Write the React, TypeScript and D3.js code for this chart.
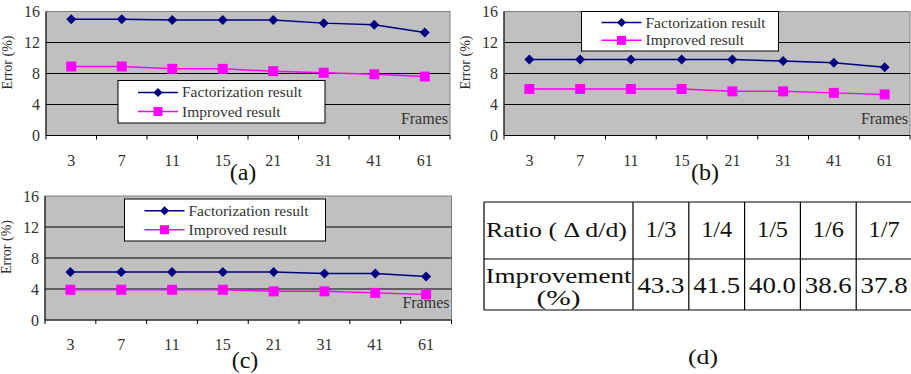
import React from 'react';
import * as d3 from 'd3';

const frames = ['3', '7', '11', '15', '21', '31', '41', '61'];
const yTicks = [0, 4, 8, 12, 16];

const factA = [15.0, 15.0, 14.9, 14.9, 14.9, 14.5, 14.3, 13.3];
const impA = [8.9, 8.9, 8.6, 8.6, 8.3, 8.1, 7.9, 7.6];
const factB = [9.8, 9.8, 9.8, 9.8, 9.8, 9.6, 9.4, 8.8];
const impB = [6.0, 6.0, 6.0, 6.0, 5.7, 5.7, 5.5, 5.3];
const factC = [6.2, 6.2, 6.2, 6.2, 6.2, 6.0, 6.0, 5.6];
const impC = [3.9, 3.9, 3.9, 3.9, 3.7, 3.7, 3.5, 3.3];

const ratios = ['1/3', '1/4', '1/5', '1/6', '1/7'];
const improvements = ['43.3', '41.5', '40.0', '38.6', '37.8'];

const FONT = 'Liberation Serif';
const NAVY = '#000080';
const MAGENTA = '#FF00FF';
const TXT = '#333';

type PanelProps = {
  left: number;
  right: number;
  top: number;
  bottom: number;
  fact: number[];
  imp: number[];
  label: string;
  labelX: number;
  labelY: number;
  legend: { x: number; y: number; w: number; h: number };
};

const Diamond = ({ x, y, r = 5 }: { x: number; y: number; r?: number }) => (
  <path d={`M${x},${y - r}L${x + r},${y}L${x},${y + r}L${x - r},${y}Z`} fill={NAVY} />
);

const Square = ({ x, y, s = 10 }: { x: number; y: number; s?: number }) => (
  <rect x={x - s / 2} y={y - s / 2} width={s} height={s} fill={MAGENTA} />
);

const Panel = ({ left, right, top, bottom, fact, imp, label, labelX, labelY, legend }: PanelProps) => {
  const x = d3.scaleBand().domain(frames).range([left, right]);
  const y = d3.scaleLinear().domain([0, 16]).range([bottom, top]);
  const cx = (f: string) => (x(f) as number) + x.bandwidth() / 2;
  const line = d3
    .line<number>()
    .x((_, i) => cx(frames[i]))
    .y((d) => y(d));

  const bounds = frames.map((f) => x(f) as number).concat([right]);
  const row1 = legend.y + legend.h * 0.28;
  const row2 = legend.y + legend.h * 0.73;
  const lx0 = legend.x + 20;
  const lx1 = legend.x + 60;

  return (
    <g fontFamily={FONT}>
      <rect x={left} y={top} width={right - left} height={bottom - top} fill="#C0C0C0" stroke="#808080" />
      {yTicks.slice(1, -1).map((t) => (
        <line key={t} x1={left} x2={right} y1={y(t)} y2={y(t)} stroke="#000" />
      ))}
      <line x1={left} x2={left} y1={top} y2={bottom} stroke="#000" />
      <line x1={left} x2={right} y1={bottom} y2={bottom} stroke="#000" />
      {bounds.map((b, i) => (
        <line key={i} x1={b} x2={b} y1={bottom} y2={bottom + 4} stroke="#000" />
      ))}
      {yTicks.map((t) => (
        <text key={t} x={left - 6} y={y(t) + 5.5} textAnchor="end" fontSize={16} fill={TXT}>
          {t}
        </text>
      ))}
      {frames.map((f) => (
        <text key={f} x={cx(f)} y={bottom + 30} textAnchor="middle" fontSize={16} fill={TXT}>
          {f}
        </text>
      ))}
      <text
        transform={`translate(${left - 34},${(top + bottom) / 2 - 11}) rotate(-90)`}
        textAnchor="middle"
        fontSize={14}
        fill={TXT}
      >
        Error (%)
      </text>
      <text x={right - 2} y={bottom - 12} textAnchor="end" fontSize={16} fill={TXT}>
        Frames
      </text>

      <path d={line(fact) as string} fill="none" stroke={NAVY} strokeWidth={1.5} />
      <path d={line(imp) as string} fill="none" stroke={MAGENTA} strokeWidth={1.5} />
      {fact.map((d, i) => (
        <Diamond key={i} x={cx(frames[i])} y={y(d)} />
      ))}
      {imp.map((d, i) => (
        <Square key={i} x={cx(frames[i])} y={y(d)} />
      ))}

      <rect x={legend.x} y={legend.y} width={legend.w} height={legend.h} fill="#fff" stroke="#000" />
      <line x1={lx0} x2={lx1} y1={row1} y2={row1} stroke={NAVY} strokeWidth={1.5} />
      <Diamond x={(lx0 + lx1) / 2} y={row1} r={4.5} />
      <line x1={lx0} x2={lx1} y1={row2} y2={row2} stroke={MAGENTA} strokeWidth={1.5} />
      <Square x={(lx0 + lx1) / 2} y={row2} s={9} />
      <text x={lx1 + 4} y={row1 + 5} fontSize={15.5} fill={TXT}>
        Factorization result
      </text>
      <text x={lx1 + 4} y={row2 + 5} fontSize={15.5} fill={TXT}>
        Improved result
      </text>

      <text x={labelX} y={labelY} textAnchor="middle" fontSize={24} fill="#111">
        {label}
      </text>
    </g>
  );
};

const Table = () => {
  const left = 484;
  const split = 633;
  const right = 912;
  const rows = [202, 259, 310];
  const col = d3.scaleBand().domain(ratios).range([split, right]);
  const edges = ratios.map((r) => col(r) as number).concat([right]);
  const cc = (r: string) => (col(r) as number) + col.bandwidth() / 2;
  const fit = { lengthAdjust: 'spacingAndGlyphs' as const };
  return (
    <g fill="#111" fontSize={22} fontFamily={FONT}>
      {rows.map((r) => (
        <line key={r} x1={left} x2={right} y1={r} y2={r} stroke="#000" strokeWidth={1.2} />
      ))}
      {[left, ...edges].map((e, i) => (
        <line key={i} x1={e} x2={e} y1={rows[0]} y2={rows[2]} stroke="#000" strokeWidth={1.2} />
      ))}
      <text x={486} y={237} textLength={141} {...fit}>
        Ratio ( Δ d/d)
      </text>
      <text x={485.5} y={283} textLength={146} {...fit}>
        Improvement
      </text>
      <text x={(left + split) / 2 - 22} y={305} textLength={44} fontSize={20} {...fit}>
        (%)
      </text>
      {ratios.map((r, i) => (
        <g key={r}>
          <text x={cc(r) - 15.5} y={237} textLength={31} fontSize={23} {...fit}>
            {r}
          </text>
          <text x={cc(r) - 23.5} y={293} textLength={47} fontSize={24} {...fit}>
            {improvements[i]}
          </text>
        </g>
      ))}
      <text x={688} y={364} textLength={30} {...fit}>
        (d)
      </text>
    </g>
  );
};

export default function App() {
  return (
    <div style={{ position: 'absolute', left: 0, top: 0 }}>
      <svg width={911} height={374} style={{ display: 'block' }}>
        <rect width={911} height={374} fill="#fff" />
        <Panel
          left={46}
          right={450}
          top={11.5}
          bottom={135.5}
          fact={factA}
          imp={impA}
          label="(a)"
          labelX={243}
          labelY={180}
          legend={{ x: 118, y: 80.5, w: 207, h: 42.5 }}
        />
        <Panel
          left={504}
          right={910}
          top={11.5}
          bottom={135.5}
          fact={factB}
          imp={impB}
          label="(b)"
          labelX={705}
          labelY={180}
          legend={{ x: 581.5, y: 11.5, w: 197, h: 39.5 }}
        />
        <Panel
          left={45}
          right={451.5}
          top={196}
          bottom={320}
          fact={factC}
          imp={impC}
          label="(c)"
          labelX={245}
          labelY={368}
          legend={{ x: 124.5, y: 199, w: 201, h: 42 }}
        />
        <Table />
      </svg>
    </div>
  );
}
